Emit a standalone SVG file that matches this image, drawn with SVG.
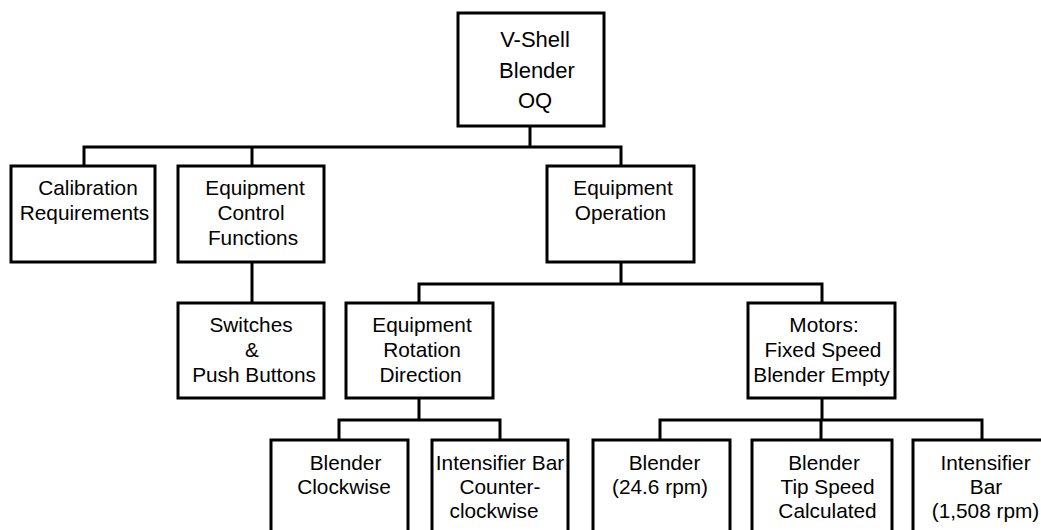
<svg xmlns="http://www.w3.org/2000/svg" width="1041" height="530" viewBox="0 0 1041 530">
<style>
.box{fill:#fff;stroke:#000;stroke-width:3}
.con{fill:none;stroke:#000;stroke-width:3;stroke-linejoin:miter}
text{font-family:"Liberation Sans",Arial,sans-serif;font-size:20.8px;fill:#000;text-anchor:middle}
.big{font-size:22px}
</style>
<rect width="1041" height="530" fill="#fff"/>
<g id="connectors">
<path class="con" d="M530,126V147M84,166V147H621V166M252,147V167"/>
<path class="con" d="M252,262V303"/>
<path class="con" d="M621,262V284M419,303V284H822V303"/>
<path class="con" d="M419,398V420M339,440V420H500V440"/>
<path class="con" d="M822,398V420M660,440V420H982V440M821,420V440"/>
</g>
<g id="n-root"><rect class="box" x="458" y="13" width="146" height="113"/>
<text class="big" x="535" y="47">V-Shell</text><text class="big" x="537" y="77.5">Blender</text><text class="big" x="535" y="108">OQ</text></g>
<g id="n-cal"><rect class="box" x="11" y="166" width="144" height="96"/>
<text x="88" y="195">Calibration</text><text x="84.5" y="220">Requirements</text></g>
<g id="n-ecf"><rect class="box" x="178" y="166" width="146" height="96"/>
<text x="255" y="195">Equipment</text><text x="251" y="220">Control</text><text x="253" y="245">Functions</text></g>
<g id="n-eo"><rect class="box" x="547" y="166" width="147" height="96"/>
<text x="623" y="195">Equipment</text><text x="620.5" y="220">Operation</text></g>
<g id="n-sw"><rect class="box" x="178" y="303" width="146" height="95"/>
<text x="251" y="332">Switches</text><text x="252" y="357">&amp;</text><text x="254" y="382">Push Buttons</text></g>
<g id="n-erd"><rect class="box" x="346" y="303" width="147" height="95"/>
<text x="422" y="332">Equipment</text><text x="422" y="357">Rotation</text><text x="420.5" y="382">Direction</text></g>
<g id="n-mot"><rect class="box" x="748" y="303" width="147" height="95"/>
<text x="824" y="332">Motors:</text><text x="823" y="357">Fixed Speed</text><text x="821.5" y="382">Blender Empty</text></g>
<g id="n-bc"><rect class="box" x="271" y="440" width="137" height="100"/>
<text x="345.5" y="470">Blender</text><text x="344" y="494">Clockwise</text></g>
<g id="n-ibc"><rect class="box" x="432" y="440" width="136" height="100"/>
<text x="500" y="470">Intensifier Bar</text><text x="500" y="494">Counter-</text><text x="494" y="518">clockwise</text></g>
<g id="n-b24"><rect class="box" x="593" y="440" width="137" height="100"/>
<text x="664.5" y="470">Blender</text><text x="660" y="494">(24.6 rpm)</text></g>
<g id="n-bts"><rect class="box" x="752" y="440" width="140" height="100"/>
<text x="824" y="470">Blender</text><text x="827.5" y="494">Tip Speed</text><text x="827.5" y="518">Calculated</text></g>
<g id="n-ib"><rect class="box" x="913" y="440" width="140" height="100"/>
<text x="985.5" y="470">Intensifier</text><text x="986" y="494">Bar</text><text x="985.5" y="518">(1,508 rpm)</text></g>
</svg>
